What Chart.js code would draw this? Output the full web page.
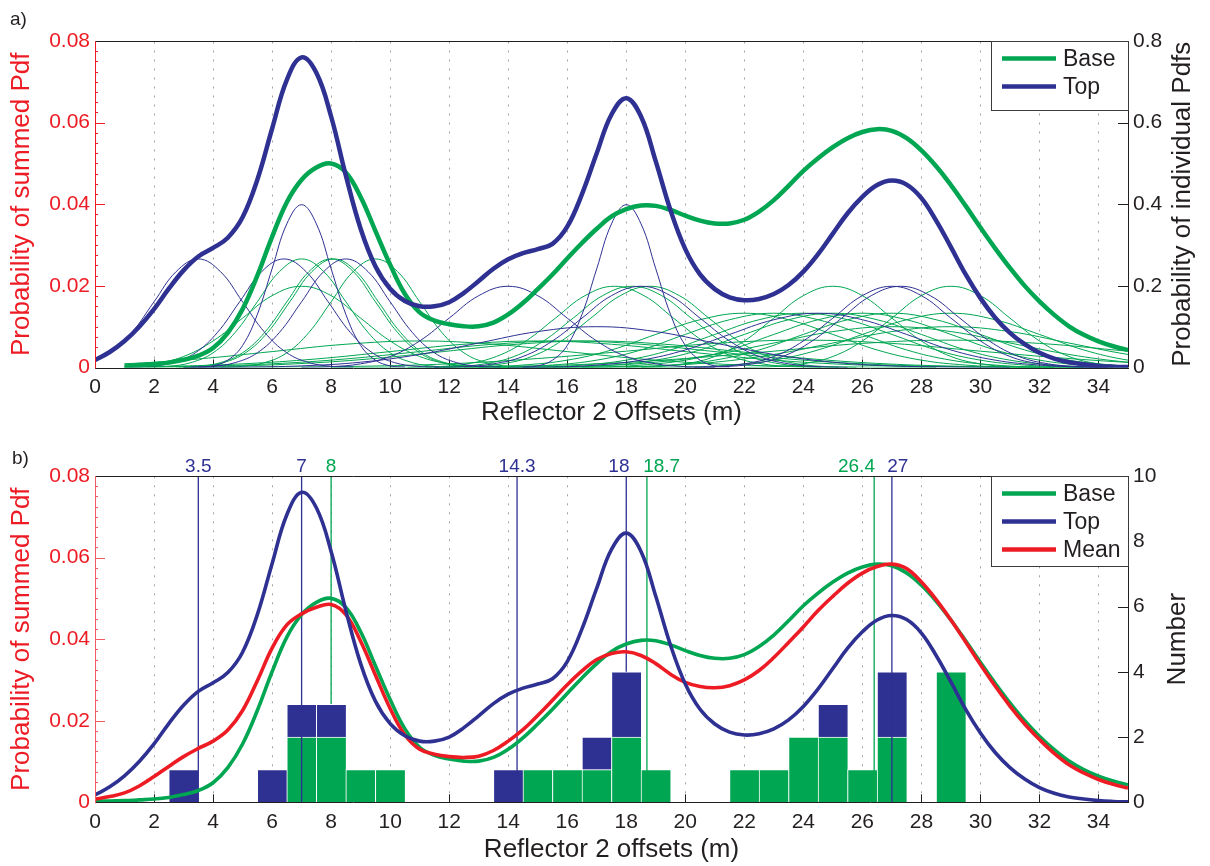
<!DOCTYPE html>
<html><head><meta charset="utf-8">
<script src="https://cdn.jsdelivr.net/npm/chart.js@4.4.1/dist/chart.umd.min.js"></script>
<style>
html,body{margin:0;padding:0;background:#fff;}
#wrap{position:relative;width:1210px;height:866px;overflow:hidden;}
#ca{position:absolute;left:0;top:0;}
#cb{position:absolute;left:0;top:430px;}
</style></head><body>
<div id="wrap">
<canvas id="ca" width="1210" height="430"></canvas>
<canvas id="cb" width="1210" height="436"></canvas>
</div>
<script>
// ---------------- data ----------------
const xGrid = [0,0.5,1,1.5,2,2.5,3,3.5,4,4.5,5,5.5,6,6.5,7,7.5,8,8.5,9,9.5,10,10.5,11,11.5,12,12.5,13,13.5,14,14.5,15,15.5,16,16.5,17,17.5,18,18.5,19,19.5,20,20.5,21,21.5,22,22.5,23,23.5,24,24.5,25,25.5,26,26.5,27,27.5,28,28.5,29,29.5,30,30.5,31,31.5,32,32.5,33,33.5,34,34.5,35];
const topSum = [0.0018,0.0038,0.0065,0.0100,0.0143,0.0193,0.0238,0.0272,0.0293,0.0318,0.0368,0.0460,0.0585,0.0705,0.0760,0.0722,0.0615,0.0470,0.0340,0.0248,0.0193,0.0163,0.0150,0.0150,0.0160,0.0183,0.0212,0.0242,0.0265,0.0280,0.0290,0.0303,0.0345,0.0425,0.0525,0.0620,0.0660,0.0615,0.0505,0.0385,0.0290,0.0228,0.0192,0.0172,0.0165,0.0168,0.0180,0.0202,0.0235,0.0278,0.0328,0.0378,0.0418,0.0447,0.0458,0.0448,0.0415,0.0360,0.0295,0.0228,0.0170,0.0122,0.0085,0.0057,0.0036,0.0022,0.0013,0.0008,0.0004,0.0002,0.0001];
const baseSum = [0.0003,0.0003,0.0004,0.0006,0.0008,0.0012,0.0019,0.0029,0.0048,0.0085,0.0143,0.0225,0.0320,0.0405,0.0460,0.0490,0.0500,0.0478,0.0418,0.0335,0.0252,0.0180,0.0135,0.0115,0.0106,0.0101,0.0101,0.0110,0.0130,0.0158,0.0192,0.0228,0.0267,0.0305,0.0340,0.0370,0.0388,0.0397,0.0396,0.0386,0.0372,0.0360,0.0353,0.0353,0.0362,0.0382,0.0410,0.0445,0.0482,0.0513,0.0540,0.0562,0.0577,0.0584,0.0580,0.0562,0.0532,0.0493,0.0447,0.0396,0.0343,0.0292,0.0244,0.0200,0.0162,0.0129,0.0101,0.0080,0.0064,0.0052,0.0043];
const meanSum = [0.0008,0.0014,0.0023,0.0040,0.0063,0.0088,0.0112,0.0132,0.0150,0.0177,0.0225,0.0298,0.0378,0.0435,0.0462,0.0478,0.0485,0.0460,0.0395,0.0312,0.0230,0.0165,0.0130,0.0118,0.0112,0.0110,0.0113,0.0127,0.0150,0.0178,0.0213,0.0250,0.0288,0.0322,0.0350,0.0365,0.0369,0.0360,0.0340,0.0314,0.0294,0.0284,0.0281,0.0286,0.0300,0.0323,0.0355,0.0392,0.0430,0.0470,0.0505,0.0537,0.0562,0.0578,0.0584,0.0573,0.0540,0.0497,0.0447,0.0393,0.0338,0.0285,0.0236,0.0192,0.0154,0.0120,0.0092,0.0072,0.0056,0.0044,0.0035];

// individual pdf profiles (values read at 15 evenly spaced offsets across each curve)
const pdfShapeS1  = [0.001,0.004,0.018,0.054,0.130,0.242,0.352,0.399,0.352,0.242,0.130,0.054,0.018,0.004,0.001];
const pdfShapeS15 = [0.001,0.003,0.012,0.036,0.086,0.161,0.235,0.266,0.235,0.161,0.086,0.036,0.012,0.003,0.001];
const pdfShapeS2  = [0.000,0.002,0.009,0.027,0.065,0.121,0.176,0.199,0.176,0.121,0.065,0.027,0.009,0.002,0.000];
const pdfShapeS3  = [0.000,0.001,0.006,0.018,0.043,0.081,0.117,0.133,0.117,0.081,0.043,0.018,0.006,0.001,0.000];
const pdfShapeS4  = [0.000,0.001,0.004,0.013,0.032,0.060,0.088,0.100,0.088,0.060,0.032,0.013,0.004,0.001,0.000];
const pdfShapeS6  = [0.000,0.001,0.003,0.009,0.022,0.040,0.059,0.067,0.059,0.040,0.022,0.009,0.003,0.001,0.000];
const pdfShapeW   = [0.000,0.001,0.003,0.009,0.021,0.039,0.057,0.065,0.057,0.039,0.021,0.009,0.003,0.001,0.000];
const topPdfCentres  = [3.5,6.4,7,8.5,14,17,18,18.5,24.5,27,27.3];
const topPdfKinds    = ['S15','S15','S1','S15','S2','S4','S1','S2','S3','S2','S2'];
const basePdfCentres = [7,7,8,8.1,9.5,11,15,16,16.8,17.6,18.2,18.8,22,23,24,24,25,25,26,27,27,29,29,29,29];
const basePdfKinds   = ['S15','S2','S15','S15','S15','W','W','W','W','S2','S2','S2','S3','S3','S3','S6','S2','S3','S3','S3','S4','S2','S3','S4','S6'];

// histogram (1 m bins, centres)
const histBins   = [3,6,7,8,9,10,14,15,16,17,18,19,22,23,24,25,26,27,29];
const baseCounts = [0,0,2,2,1,1,0,1,1,1,2,1,1,1,2,2,1,2,4];
const topCounts  = [1,1,1,1,0,0,1,0,0,1,2,0,0,0,0,1,0,2,0];

// peak markers
const peakTop  = [3.5,7,14.3,18,27];
const peakBase = [8,18.7,26.4];
const peakTopLabels  = ['3.5','7','14.3','18','27'];
const peakBaseLabels = ['8','18.7','26.4'];

// text
const seriesNamesA = ['Base','Top'];
const seriesNamesB = ['Base','Top','Mean'];
const xTitleA = 'Reflector 2 Offsets (m)';
const xTitleB = 'Reflector 2 offsets (m)';
const leftTitle = 'Probability of summed Pdf';
const rightTitleA = 'Probability of individual Pdfs';
const rightTitleB = 'Number';

// ---------------- styles ----------------
const FONT = "'Liberation Sans', Arial, Helvetica, sans-serif";
const RED = '#ed1c24', GREEN = '#00a651', BLUE = '#2e3192', INK = '#231f20';
const peakTopShift  = [0,0,0,-0.25,0.2];   // label nudges (m)
const peakBaseShift = [0,0.5,-0.6];
const peakTopBehind  = [false,false,false,true,false];
const peakBaseBehind = [true,false,false];

const pdfShapes = {S1:pdfShapeS1, S15:pdfShapeS15, S2:pdfShapeS2, S3:pdfShapeS3, S4:pdfShapeS4, S6:pdfShapeS6, W:pdfShapeW};
const pdfSpacing = {S1:0.5, S15:0.75, S2:1, S3:1.5, S4:2, S6:3, W:2.5};
function pdfPoints(c, kind) {
  const vals = pdfShapes[kind], step = pdfSpacing[kind], start = c - 7 * step;
  return vals.map((v, i) => ({x: start + i * step, y: v}));
}
const pts = arr => xGrid.map((x, i) => ({x, y: arr[i]}));

function decor(o) {
  return {
    id: 'decor',
    beforeDatasetDraw(chart, args) {
      const ds = chart.data.datasets[args.index];
      if (ds.startAt !== undefined) {
        const ctx = chart.ctx, px = chart.scales.x.getPixelForValue(ds.startAt);
        ctx.save(); ctx.beginPath(); ctx.rect(px, 0, chart.width, chart.height); ctx.clip();
      }
    },
    afterDatasetDraw(chart, args) {
      const ds = chart.data.datasets[args.index];
      if (ds.startAt !== undefined) chart.ctx.restore();
    },
    beforeDatasetsDraw(chart) {
      const {ctx, chartArea: a, scales} = chart;
      const sx = scales.x, sy = scales.y, sr = scales[o.rightId];
      ctx.save();
      ctx.lineWidth = 1;
      ctx.strokeStyle = '#a3a3a3';
      ctx.setLineDash([2, 7]);
      sx.ticks.forEach(t => {
        if (t.value <= sx.min || t.value >= sx.max) return;
        const px = Math.round(sx.getPixelForValue(t.value)) + 0.5;
        ctx.beginPath(); ctx.moveTo(px, a.bottom); ctx.lineTo(px, a.top); ctx.stroke();
      });
      ctx.setLineDash([]);
      ctx.strokeStyle = INK;
      sx.ticks.forEach(t => {
        const px = Math.round(sx.getPixelForValue(t.value)) + 0.5;
        ctx.beginPath(); ctx.moveTo(px, a.bottom); ctx.lineTo(px, a.bottom - 8); ctx.stroke();
      });
      sr.ticks.forEach(t => {
        const py = Math.round(sr.getPixelForValue(t.value)) + 0.5;
        ctx.beginPath(); ctx.moveTo(a.right, py); ctx.lineTo(a.right - 10, py); ctx.stroke();
      });
      ctx.strokeStyle = o.leftColor;
      const ticksY = sy.ticks.map(t => t.value);
      for (let i = 0; i < ticksY.length; i++) {
        const py = Math.round(sy.getPixelForValue(ticksY[i])) + 0.5;
        ctx.beginPath(); ctx.moveTo(a.left, py); ctx.lineTo(a.left + 10, py); ctx.stroke();
        if (i < ticksY.length - 1) {
          for (let k = 1; k < 8; k++) {
            const v = ticksY[i] + (ticksY[i + 1] - ticksY[i]) * k / 8;
            const pm = Math.round(sy.getPixelForValue(v)) + 0.5;
            ctx.beginPath(); ctx.moveTo(a.left, pm); ctx.lineTo(a.left + 3, pm); ctx.stroke();
          }
        }
      }
      ctx.restore();
    },
    afterDatasetsDraw(chart) {
      const {ctx, chartArea: a} = chart;
      ctx.save();
      ctx.lineWidth = 1;
      ctx.strokeStyle = INK;
      ctx.beginPath();
      ctx.moveTo(a.left, Math.round(a.top) + 0.5); ctx.lineTo(a.right, Math.round(a.top) + 0.5);
      ctx.moveTo(Math.round(a.right) + 0.5, a.top); ctx.lineTo(Math.round(a.right) + 0.5, a.bottom);
      ctx.moveTo(a.left, Math.round(a.bottom) + 0.5); ctx.lineTo(a.right + 1, Math.round(a.bottom) + 0.5);
      ctx.stroke();
      ctx.strokeStyle = o.leftColor;
      ctx.beginPath();
      ctx.moveTo(Math.round(a.left) + 0.5, a.top); ctx.lineTo(Math.round(a.left) + 0.5, a.bottom + 1);
      ctx.stroke();
      ctx.restore();
    },
    afterDraw(chart) {
      const {ctx, chartArea: a} = chart;
      const sx = chart.scales.x;
      ctx.save();
      // legend
      const bw = 137, bh = o.legendH, bx = a.right - bw, by = a.top;
      ctx.fillStyle = '#fff'; ctx.fillRect(bx, by, bw, bh);
      ctx.strokeStyle = '#3a3a3a'; ctx.lineWidth = 1;
      ctx.strokeRect(Math.round(bx) + 0.5, Math.round(by) + 0.5, bw, bh);
      o.legend.forEach((it, i) => {
        const y = by + 17.5 + i * 28;
        ctx.strokeStyle = it.color; ctx.lineWidth = 4.5;
        ctx.beginPath(); ctx.moveTo(bx + 11, y); ctx.lineTo(bx + 65, y); ctx.stroke();
        ctx.fillStyle = INK; ctx.font = '23px ' + FONT; ctx.textAlign = 'left'; ctx.textBaseline = 'middle';
        ctx.fillText(it.label, bx + 72, y + 1);
      });
      // right title (reads bottom to top)
      ctx.translate(a.right + o.rightTitleDx, (a.top + a.bottom) / 2);
      ctx.rotate(-Math.PI / 2);
      ctx.fillStyle = INK; ctx.font = '26px ' + FONT; ctx.textAlign = 'center'; ctx.textBaseline = 'middle';
      ctx.fillText(o.rightTitle, 0, 0);
      ctx.setTransform(1, 0, 0, 1, 0, 0);
      // panel letter
      ctx.fillStyle = INK; ctx.font = '19px ' + FONT; ctx.textAlign = 'left'; ctx.textBaseline = 'middle';
      ctx.fillText(o.letter, o.letterX, a.top - o.letterDy);
      // peak labels
      if (o.peaks) {
        ctx.font = '19px ' + FONT; ctx.textAlign = 'center'; ctx.textBaseline = 'alphabetic';
        o.peaks.forEach(p => {
          p.values.forEach((v, i) => {
            ctx.fillStyle = p.color;
            ctx.fillText(p.labels[i], sx.getPixelForValue(v + p.shift[i]), a.top - 4.5);
          });
        });
      }
      ctx.restore();
    }
  };
}

function axisX(title, pad, tpad, h) {
  return {
    type: 'linear', min: 0, max: 35, offset: false,
    ticks: {stepSize: 2, includeBounds: false, autoSkip: false, maxRotation: 0, padding: pad,
            color: INK, font: {family: FONT, size: 21}, callback: v => String(v)},
    grid: {display: false, drawTicks: false}, border: {display: false},
    title: {display: true, text: title, color: INK, font: {family: FONT, size: 26}, padding: {top: 0, bottom: tpad}},
    afterFit: s => { s.height = h; }
  };
}
function axisLeft() {
  return {
    position: 'left', min: 0, max: 0.08,
    ticks: {stepSize: 0.02, padding: 5, color: RED, font: {family: FONT, size: 21},
            callback: v => v === 0 ? '0' : v.toFixed(2)},
    grid: {display: false, drawTicks: false}, border: {display: false},
    title: {display: true, text: leftTitle, color: RED, font: {family: FONT, size: 26}, padding: {top: 6, bottom: 0}},
    afterFit: s => { s.width = 95; }
  };
}
function axisRight(max, step, fmt) {
  return {
    position: 'right', min: 0, max: max,
    ticks: {stepSize: step, padding: 5, color: INK, font: {family: FONT, size: 21}, callback: fmt},
    grid: {display: false, drawTicks: false}, border: {display: false},
    afterFit: s => { s.width = 82; }
  };
}
const lineDs = (label, data, color, width, extra) => Object.assign({
  label, data, borderColor: color, backgroundColor: color, borderWidth: width,
  pointRadius: 0, fill: false, tension: 0.4, yAxisID: 'y'
}, extra || {});

// ---------------- chart a ----------------
const dsA = [];
basePdfCentres.forEach((c, i) => dsA.push(lineDs('base pdf', pdfPoints(c, basePdfKinds[i]), GREEN, 1, {yAxisID: 'y2', startAt: 1, order: 10})));
topPdfCentres.forEach((c, i) => dsA.push(lineDs('top pdf', pdfPoints(c, topPdfKinds[i]), BLUE, 1, {yAxisID: 'y2', order: 9})));
dsA.push(lineDs(seriesNamesA[0], pts(baseSum), GREEN, 4.5, {startAt: 1, order: 2}));
dsA.push(lineDs(seriesNamesA[1], pts(topSum), BLUE, 4.5, {order: 1}));

new Chart(document.getElementById('ca'), {
  type: 'line',
  data: {datasets: dsA},
  options: {
    responsive: false, animation: false, devicePixelRatio: 1,
    layout: {padding: {top: 41, left: 0, right: 0, bottom: 0}},
    plugins: {legend: {display: false}, tooltip: {enabled: false}},
    scales: {
      x: axisX(xTitleA, 7, 1.6, 62.5),
      y: axisLeft(),
      y2: axisRight(0.8, 0.2, v => v === 0 ? '0' : v.toFixed(1))
    }
  },
  plugins: [decor({rightId: 'y2', leftColor: RED, legendH: 69,
    legend: [{label: seriesNamesA[0], color: GREEN}, {label: seriesNamesA[1], color: BLUE}],
    rightTitle: rightTitleA, rightTitleDx: 55, letter: 'a)', letterX: 10, letterDy: 21})]
});

// ---------------- chart b ----------------
const dsB = [];
dsB.push({type: 'bar', label: 'Base count', yAxisID: 'yn', stack: 'counts', order: 20,
  data: histBins.map((b, i) => ({x: b, y: baseCounts[i] || null})),
  backgroundColor: GREEN, borderColor: '#ffffff', borderWidth: {top: 1, left: 1, right: 0, bottom: 0},
  borderSkipped: 'start', barPercentage: 1, categoryPercentage: 1});
dsB.push({type: 'bar', label: 'Top count', yAxisID: 'yn', stack: 'counts', order: 20,
  data: histBins.map((b, i) => ({x: b, y: topCounts[i] || null})),
  backgroundColor: BLUE, borderColor: '#ffffff', borderWidth: {top: 1, left: 1, right: 0, bottom: 0},
  borderSkipped: 'start', barPercentage: 1, categoryPercentage: 1});
peakTop.forEach((v, i) => dsB.push(lineDs('top peak', [{x: v, y: 0}, {x: v, y: 0.08}], BLUE, 1.3,
  {order: peakTopBehind[i] ? 30 : 10, tension: 0})));
peakBase.forEach((v, i) => dsB.push(lineDs('base peak', [{x: v, y: 0}, {x: v, y: 0.08}], GREEN, 1.3,
  {order: peakBaseBehind[i] ? 30 : 10, tension: 0})));
dsB.push(lineDs(seriesNamesB[0], pts(baseSum), GREEN, 3.6, {order: 3}));
dsB.push(lineDs(seriesNamesB[2], pts(meanSum), RED, 3.6, {order: 2}));
dsB.push(lineDs(seriesNamesB[1], pts(topSum), BLUE, 3.6, {order: 1}));

new Chart(document.getElementById('cb'), {
  type: 'line',
  data: {datasets: dsB},
  options: {
    responsive: false, animation: false, devicePixelRatio: 1,
    layout: {padding: {top: 46, left: 0, right: 0, bottom: 0}},
    plugins: {legend: {display: false}, tooltip: {enabled: false}},
    scales: {
      x: axisX(xTitleB, 7.6, 0.6, 63.7),
      y: axisLeft(),
      yn: Object.assign(axisRight(10, 2, v => String(v)), {stacked: true})
    }
  },
  plugins: [decor({rightId: 'yn', leftColor: '#f05a63', legendH: 90,
    legend: [{label: seriesNamesB[0], color: GREEN}, {label: seriesNamesB[1], color: BLUE}, {label: seriesNamesB[2], color: RED}],
    rightTitle: rightTitleB, rightTitleDx: 50, letter: 'b)', letterX: 12, letterDy: 17,
    peaks: [{values: peakTop, labels: peakTopLabels, shift: peakTopShift, color: BLUE},
            {values: peakBase, labels: peakBaseLabels, shift: peakBaseShift, color: GREEN}]})]
});
</script>
</body></html>
